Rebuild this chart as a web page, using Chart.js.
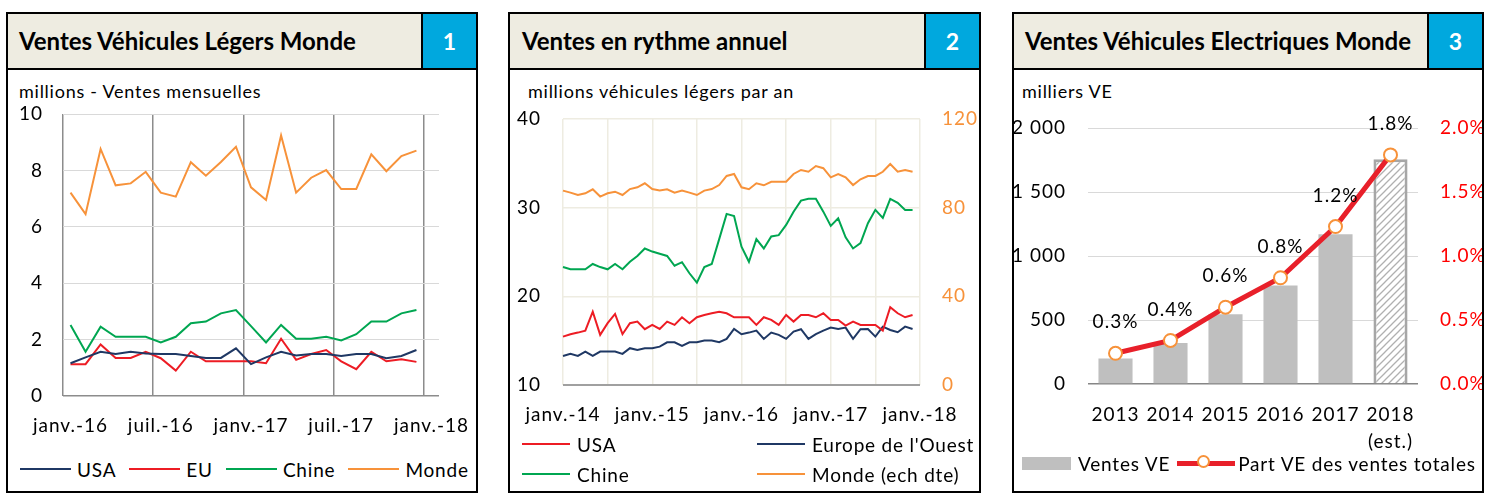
<!DOCTYPE html>
<html lang="fr">
<head>
<meta charset="UTF-8">
<title>Ventes véhicules légers</title>
<script src="https://cdn.jsdelivr.net/npm/chart.js"></script>
<style>
  body { margin:0; width:1491px; height:501px; background:#fff; font-family:Lato, sans-serif; position:relative; overflow:hidden; }
  .panel { position:absolute; top:12px; height:481px; border:2px solid #000; box-sizing:border-box; }
  .head { position:absolute; left:0; top:0; right:0; height:56px; background:#EEECE1; border-bottom:2px solid #000; box-sizing:border-box; }
  .title { position:absolute; left:11px; top:0; line-height:54px; font-size:24px; font-weight:bold; white-space:nowrap; }
  .num { position:absolute; right:0; top:0; width:55px; height:56px; box-sizing:border-box; background:#00A8DE; border-left:2px solid #000; border-bottom:2px solid #000; color:#fff; font-size:23px; font-weight:bold; text-align:center; line-height:54px; }
  .sub { position:absolute; top:66px; font-size:18px; letter-spacing:0.75px; white-space:nowrap; }
  canvas { position:absolute; }
  .legend { position:absolute; font-size:19px; letter-spacing:0.8px; display:flex; align-items:center; white-space:nowrap; }
  .item { display:flex; align-items:center; }
  .sw { display:inline-block; height:2px; margin-right:6px; }
</style>
</head>
<body>
  <div class="panel" style="left:6px; width:472px;">
    <div class="head"><div class="title">Ventes Véhicules Légers Monde</div></div>
    <div class="num">1</div>
    <div class="sub" style="left:11px;">millions - Ventes mensuelles</div>
  </div>
  <div class="panel" style="left:508px; width:473px;">
    <div class="head"><div class="title" style="left:12px;">Ventes en rythme annuel</div></div>
    <div class="num">2</div>
    <div class="sub" style="left:18px;">millions véhicules légers par an</div>
  </div>
  <div class="panel" style="left:1012px; width:472px;">
    <div class="head"><div class="title" style="left:11px;">Ventes Véhicules Electriques Monde</div></div>
    <div class="num">3</div>
    <div class="sub" style="left:8px;">milliers VE</div>
  </div>

  <canvas id="c1" width="468" height="345" style="left:8px; top:100px;"></canvas>
  <canvas id="c2" width="469" height="345" style="left:510px; top:100px;"></canvas>
  <canvas id="c3" width="468" height="352" style="left:1014px; top:100px;"></canvas>

  <div class="legend" id="leg1" style="left:20px; top:457px; height:24px; gap:13px;"></div>
  <div class="legend" id="leg2" style="left:522px; top:429px; display:grid; grid-template-columns:235px auto; grid-auto-rows:30px;"></div>
  <div class="legend" id="leg3" style="left:1022px; top:451px; height:24px;">
    <span class="sw" style="width:49px; height:13px; background:#BFBFBF; margin-right:7px;"></span>
    <span>Ventes VE</span>
    <span style="position:relative; display:inline-block; width:58px; height:5px; background:#E8202A; margin:0 3px 0 7px;">
      <span style="position:absolute; left:20px; top:-6px; width:13px; height:13px; box-sizing:border-box; border-radius:50%; border:2px solid #F7923A; background:#fff;"></span>
    </span>
    <span>Part VE des ventes totales</span>
  </div>

<script>
  // colours
  const NAVY = '#1F3864';
  const RED = '#ED1C24';
  const GREEN = '#00A651';
  const ORANGE = '#F7923A';
  const BEIGE = '#EEECE1';

  const MOIS = ['janv.', 'févr.', 'mars', 'avr.', 'mai', 'juin', 'juil.', 'août', 'sept.', 'oct.', 'nov.', 'déc.'];
  const monthLabels = (startYear, count) => {
    const out = [];
    for (let i = 0; i < count; i++) {
      out.push(MOIS[i % 12] + '-' + String(startYear + Math.floor(i / 12)).slice(2));
    }
    return out;
  };

  // ---- Panel 1 : ventes mensuelles (janv.-16 .. déc.-17), millions
  const months1 = monthLabels(2016, 25);
  const usa1 = [1.16, 1.37, 1.57, 1.49, 1.57, 1.51, 1.49, 1.49, 1.42, 1.35, 1.35, 1.69, 1.13, 1.37, 1.57, 1.44, 1.49, 1.49, 1.42, 1.49, 1.49, 1.34, 1.42, 1.63];
  const eu1 = [1.13, 1.13, 1.83, 1.35, 1.35, 1.57, 1.34, 0.90, 1.57, 1.23, 1.23, 1.23, 1.23, 1.16, 2.03, 1.28, 1.49, 1.63, 1.23, 0.95, 1.57, 1.23, 1.30, 1.21];
  const chine1 = [2.52, 1.57, 2.46, 2.10, 2.10, 2.10, 1.90, 2.10, 2.58, 2.64, 2.93, 3.05, 2.48, 1.90, 2.52, 2.03, 2.03, 2.10, 1.97, 2.19, 2.64, 2.64, 2.93, 3.05];
  const monde1 = [7.21, 6.45, 8.76, 7.47, 7.54, 7.95, 7.21, 7.07, 8.29, 7.81, 8.30, 8.84, 7.40, 6.95, 9.24, 7.21, 7.74, 8.01, 7.34, 7.34, 8.57, 7.97, 8.51, 8.70];

  // ---- Panel 2 : rythme annuel (janv.-14 .. déc.-17)
  const months2 = monthLabels(2014, 49);
  const usa2 = [15.46, 15.73, 15.91, 16.13, 18.27, 15.65, 16.97, 18.02, 15.73, 16.97, 17.15, 16.29, 16.78, 16.32, 17.15, 16.78, 17.64, 16.97, 17.64, 17.90, 18.09, 18.27, 18.09, 17.64, 17.64, 17.64, 16.78, 17.64, 17.34, 16.78, 17.90, 17.15, 17.90, 17.90, 17.64, 18.09, 17.34, 17.34, 16.70, 17.15, 16.78, 16.78, 16.78, 16.13, 18.77, 18.09, 17.64, 17.90];
  const europe2 = [13.28, 13.51, 13.28, 13.77, 13.28, 13.77, 13.77, 13.77, 13.51, 14.15, 13.96, 14.15, 14.15, 14.33, 14.82, 14.82, 14.41, 14.82, 14.82, 15.01, 15.01, 14.82, 15.20, 16.32, 15.73, 15.91, 16.13, 15.20, 15.91, 15.65, 15.20, 16.02, 16.29, 15.20, 15.73, 16.13, 16.47, 16.32, 16.47, 15.20, 16.29, 16.32, 15.46, 16.58, 16.21, 15.95, 16.58, 16.32];
  const chine2 = [23.3, 23.05, 23.05, 23.05, 23.65, 23.3, 23.05, 23.65, 23.05, 23.9, 24.55, 25.4, 25.05, 24.8, 24.55, 23.45, 23.85, 22.6, 21.55, 23.3, 23.65, 26.45, 29.3, 29.05, 25.6, 23.9, 26.45, 25.4, 26.75, 26.9, 28.05, 29.55, 30.8, 31.0, 31.0, 29.55, 27.95, 28.8, 26.65, 25.4, 26.0, 28.25, 29.75, 28.85, 31.0, 30.55, 29.75, 29.75];
  const monde2 = [87.7, 86.8, 85.7, 86.5, 88.3, 85.0, 86.5, 87.2, 85.7, 88.4, 89.2, 91.0, 88.4, 87.7, 88.3, 86.8, 87.7, 86.8, 85.7, 87.7, 88.4, 90.2, 94.3, 95.2, 89.2, 88.3, 91.0, 90.1, 91.7, 91.7, 91.7, 95.2, 97.0, 96.2, 98.8, 97.8, 93.7, 95.2, 93.7, 90.2, 92.8, 94.3, 94.3, 96.2, 99.7, 96.2, 97.0, 96.2];

  // ---- Panel 3 : véhicules électriques
  const years3 = ['2013', '2014', '2015', '2016', '2017', ['2018', '(est.)']];
  const evSales = [200, 320, 545, 770, 1170, 1755];
  const evShare = [0.24, 0.34, 0.60, 0.83, 1.23, 1.79];
  const evShareLabels = ['0.3%', '0.4%', '0.6%', '0.8%', '1.2%', '1.8%'];

  Chart.defaults.font.family = 'Lato';
  Chart.defaults.font.size = 19;
  Chart.defaults.color = '#000';
  Chart.defaults.animation = false;
  Chart.defaults.responsive = false;
  Chart.defaults.plugins.legend.display = false;
  Chart.defaults.plugins.tooltip.enabled = false;
  Chart.defaults.elements.point.radius = 0;
  Chart.defaults.elements.line.borderWidth = 2;
  Chart.defaults.elements.line.tension = 0;

  // Excel-like wider text spacing on the canvas
  Chart.register({
    id: 'spacing',
    beforeLayout(chart) { chart.ctx.letterSpacing = '1px'; },
    beforeDraw(chart) { chart.ctx.letterSpacing = '1px'; },
  });

  const CLEAR = 'rgba(0,0,0,0)';

  // keep the plot area where layout.padding puts it, whatever the tick labels need
  const fixW = w => s => { s.width = w; s.paddingTop = 0; s.paddingBottom = 0; };
  const fixH = h => s => { s.height = h; s.paddingLeft = 0; s.paddingRight = 0; };

  // Chart 1
  new Chart(document.getElementById('c1'), {
    type: 'line',
    data: {
      labels: months1,
      datasets: [
        { label: 'USA', data: usa1, borderColor: NAVY },
        { label: 'EU', data: eu1, borderColor: RED },
        { label: 'Chine', data: chine1, borderColor: GREEN },
        { label: 'Monde', data: monde1, borderColor: ORANGE },
      ],
    },
    options: {
      layout: { padding: { top: 14, right: 37 } },
      scales: {
        x: {
          offset: true,
          border: { display: false },
          grid: { offset: true, drawTicks: false, lineWidth: 1.5, color: c => c.index % 6 === 0 ? '#8C8C8C' : CLEAR },
          ticks: { autoSkip: false, maxRotation: 0, padding: 18, callback: (v, i) => i % 6 === 0 ? months1[i] : '' },
          afterFit: fixH(49),
        },
        y: {
          min: 0, max: 10,
          border: { display: false },
          grid: { drawTicks: false, color: c => c.tick && c.tick.value === 0 ? '#8C8C8C' : '#D9D9D9', lineWidth: c => c.tick && c.tick.value === 0 ? 1.5 : 1 },
          ticks: { stepSize: 2, padding: 20 },
          afterFit: fixW(55),
        },
      },
    },
  });

  // Chart 2
  new Chart(document.getElementById('c2'), {
    type: 'line',
    data: {
      labels: months2,
      datasets: [
        { label: 'USA', data: usa2, borderColor: RED, yAxisID: 'y' },
        { label: "Europe de l'Ouest", data: europe2, borderColor: NAVY, yAxisID: 'y' },
        { label: 'Chine', data: chine2, borderColor: GREEN, yAxisID: 'y' },
        { label: 'Monde (ech dte)', data: monde2, borderColor: ORANGE, yAxisID: 'y1' },
      ],
    },
    options: {
      layout: { padding: { top: 19 } },
      scales: {
        x: {
          border: { display: false },
          grid: { drawTicks: false, color: c => c.index % 6 === 0 ? BEIGE : CLEAR, lineWidth: 1.5 },
          ticks: { autoSkip: false, maxRotation: 0, padding: 18, callback: (v, i) => i % 12 === 0 ? months2[i] : '' },
          afterFit: fixH(60),
        },
        y: {
          position: 'left', min: 10, max: 40,
          border: { display: false },
          grid: { drawTicks: false, color: c => c.tick && c.tick.value === 10 ? '#A0A0A0' : BEIGE, lineWidth: c => c.tick && c.tick.value === 10 ? 2 : 1.5 },
          ticks: { stepSize: 10, padding: 22 },
          afterFit: fixW(53),
        },
        y1: {
          position: 'right', min: 0, max: 120,
          border: { display: false },
          grid: { display: false, drawTicks: false },
          ticks: { stepSize: 40, padding: 22, color: ORANGE },
          afterFit: fixW(59),
        },
      },
    },
  });

  // hatch for the 2018 estimate
  const hatchCanvas = document.createElement('canvas');
  hatchCanvas.width = 7;
  hatchCanvas.height = 7;
  const hctx = hatchCanvas.getContext('2d');
  hctx.fillStyle = '#fff';
  hctx.fillRect(0, 0, 7, 7);
  hctx.strokeStyle = '#B0B0B0';
  hctx.lineWidth = 1.3;
  hctx.beginPath();
  hctx.moveTo(0, 7); hctx.lineTo(7, 0);
  hctx.moveTo(-1, 1); hctx.lineTo(1, -1);
  hctx.moveTo(6, 8); hctx.lineTo(8, 6);
  hctx.stroke();
  const hatch = document.getElementById('c3').getContext('2d').createPattern(hatchCanvas, 'repeat');

  const shareLabelsPlugin = {
    id: 'shareLabels',
    afterDatasetsDraw(chart) {
      const { ctx } = chart;
      const meta = chart.getDatasetMeta(0);
      ctx.save();
      ctx.font = '19px Lato';
      ctx.fillStyle = '#000';
      ctx.textAlign = 'center';
      ctx.textBaseline = 'middle';
      meta.data.forEach((pt, i) => ctx.fillText(evShareLabels[i], pt.x, pt.y - 31));
      ctx.restore();
    },
  };

  const spaced = v => String(v).replace(/\B(?=(\d{3})+(?!\d))/g, ' ');

  // Chart 3
  new Chart(document.getElementById('c3'), {
    type: 'bar',
    data: {
      labels: years3,
      datasets: [
        {
          type: 'line', label: 'Part VE des ventes totales', data: evShare, yAxisID: 'y1', order: 0,
          borderColor: '#E8202A', borderWidth: 5, pointRadius: 6.5, pointBorderWidth: 2,
          pointBorderColor: ORANGE, pointBackgroundColor: '#fff',
        },
        {
          type: 'bar', label: 'Ventes VE', data: evSales, yAxisID: 'y', order: 1,
          backgroundColor: ['#BFBFBF', '#BFBFBF', '#BFBFBF', '#BFBFBF', '#BFBFBF', hatch],
          borderColor: [CLEAR, CLEAR, CLEAR, CLEAR, CLEAR, '#A6A6A6'],
          borderWidth: [0, 0, 0, 0, 0, 3],
          categoryPercentage: 1, barPercentage: 0.62,
        },
      ],
    },
    options: {
      layout: { padding: { top: 28 } },
      scales: {
        x: {
          border: { display: false },
          grid: { display: false, drawTicks: false },
          ticks: { maxRotation: 0, padding: 17, font: { lineHeight: 1.45 } },
          afterFit: fixH(68),
        },
        y: {
          position: 'left', min: 0, max: 2000,
          border: { display: false },
          grid: { drawTicks: false, color: c => c.tick && c.tick.value === 0 ? '#868686' : '#D9D9D9', lineWidth: c => c.tick && c.tick.value === 0 ? 1.5 : 1 },
          ticks: { stepSize: 500, padding: 22, callback: v => spaced(v) },
          afterFit: fixW(74),
        },
        y1: {
          position: 'right', min: 0, max: 2,
          border: { display: false },
          grid: { display: false, drawTicks: false },
          ticks: { stepSize: 0.5, padding: 22, color: '#FF0000', callback: v => v.toFixed(1) + '%' },
          afterFit: fixW(64),
        },
      },
    },
    plugins: [shareLabelsPlugin],
  });

  // HTML legends
  const legendItem = (label, color, width, gap) =>
    `<span class="item"><span class="sw" style="width:${width}px; margin-right:${gap}px; background:${color};"></span>${label}</span>`;

  document.getElementById('leg1').innerHTML = [
    ['USA', NAVY], ['EU', RED], ['Chine', GREEN], ['Monde', ORANGE],
  ].map(([l, c]) => legendItem(l, c, 51, 6)).join('');

  document.getElementById('leg2').innerHTML = [
    ['USA', RED], ["Europe de l'Ouest", NAVY], ['Chine', GREEN], ['Monde (ech dte)', ORANGE],
  ].map(([l, c]) => legendItem(l, c, 48, 7)).join('');
</script>
</body>
</html>
